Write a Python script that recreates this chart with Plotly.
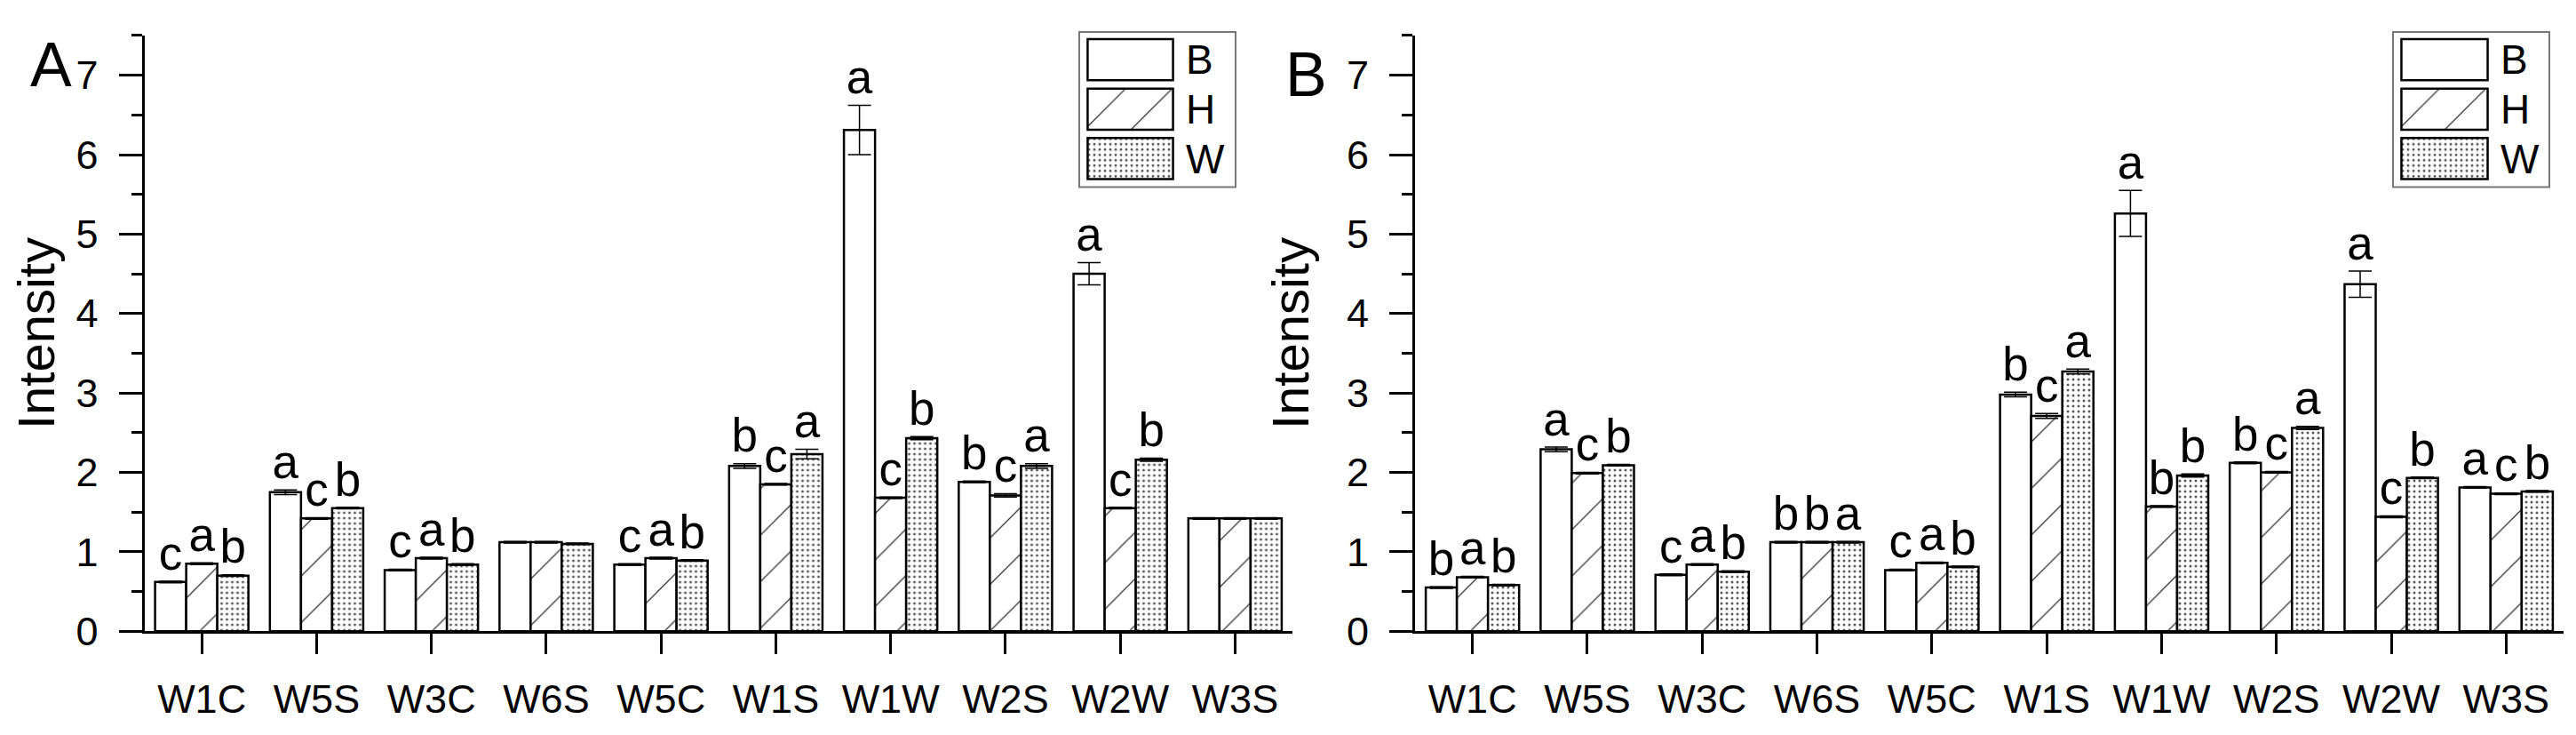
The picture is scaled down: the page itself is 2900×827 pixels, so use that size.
import plotly.graph_objects as go

# ---------------- data ----------------
categories = ["W1C", "W5S", "W3C", "W6S", "W5C", "W1S", "W1W", "W2S", "W2W", "W3S"]
series_names = ["B", "H", "W"]

# Panel A
a_B = [0.62, 1.75, 0.77, 1.12, 0.84, 2.08, 6.31, 1.88, 4.50, 1.42]
a_H = [0.85, 1.42, 0.92, 1.12, 0.92, 1.85, 1.68, 1.71, 1.55, 1.42]
a_W = [0.70, 1.55, 0.84, 1.10, 0.89, 2.23, 2.43, 2.08, 2.16, 1.42]
a_B_err = [0.01, 0.03, 0.01, 0.01, 0.01, 0.03, 0.31, 0.01, 0.14, 0.01]
a_H_err = [0.01, 0.01, 0.01, 0.01, 0.01, 0.01, 0.01, 0.02, 0.01, 0.01]
a_W_err = [0.01, 0.01, 0.01, 0.01, 0.01, 0.06, 0.02, 0.03, 0.02, 0.01]
a_B_let = ["c", "a", "c", "", "c", "b", "a", "b", "a", ""]
a_H_let = ["a", "c", "a", "", "a", "c", "c", "c", "c", ""]
a_W_let = ["b", "b", "b", "", "b", "a", "b", "a", "b", ""]

# Panel B
b_B = [0.55, 2.29, 0.71, 1.12, 0.77, 2.98, 5.26, 2.12, 4.37, 1.81]
b_H = [0.68, 1.99, 0.84, 1.12, 0.86, 2.71, 1.57, 2.00, 1.44, 1.73]
b_W = [0.58, 2.09, 0.75, 1.12, 0.81, 3.27, 1.96, 2.56, 1.93, 1.76]
b_B_err = [0.01, 0.03, 0.01, 0.01, 0.01, 0.03, 0.29, 0.01, 0.165, 0.01]
b_H_err = [0.01, 0.01, 0.01, 0.01, 0.01, 0.03, 0.01, 0.01, 0.01, 0.01]
b_W_err = [0.01, 0.01, 0.01, 0.01, 0.01, 0.03, 0.02, 0.02, 0.01, 0.01]
b_B_let = ["b", "a", "c", "b", "c", "b", "a", "b", "a", "a"]
b_H_let = ["a", "c", "a", "b", "a", "c", "b", "c", "c", "c"]
b_W_let = ["b", "b", "b", "a", "b", "a", "b", "a", "b", "b"]

y_tickvals = [0, 1, 2, 3, 4, 5, 6, 7]
panel_labels = ["A", "B"]
y_title = "Intensity"

# ---------------- styles ----------------
W_PX, H_PX = 2900, 827
FONT = "Liberation Sans, Arial, sans-serif"

def px_x(p):
    return p / W_PX

def px_y(p):
    return (H_PX - p) / H_PX

patterns = {
    "B": dict(shape="", bgcolor="white"),
    "H": dict(shape="/", size=37, solidity=0.035, fgcolor="#333333", bgcolor="white", fillmode="replace"),
    "W": dict(shape=".", size=6, solidity=0.2, fgcolor="#5a5a5a", bgcolor="white", fillmode="replace"),
}

fig = go.Figure()

panels = [
    dict(vals=[a_B, a_H, a_W], errs=[a_B_err, a_H_err, a_W_err], lets=[a_B_let, a_H_let, a_W_let],
         xa="x", ya="y"),
    dict(vals=[b_B, b_H, b_W], errs=[b_B_err, b_H_err, b_W_err], lets=[b_B_let, b_H_let, b_W_let],
         xa="x2", ya="y2"),
]

for p in panels:
    for name, v, e in zip(series_names, p["vals"], p["errs"]):
        fig.add_trace(go.Bar(
            x=categories, y=v, name=name, offsetgroup=name,
            xaxis=p["xa"], yaxis=p["ya"], showlegend=False,
            marker=dict(color="white", line=dict(color="black", width=2.5), pattern=patterns[name]),
            error_y=dict(type="data", array=e, visible=True, color="black", thickness=1.5, width=13),
        ))
    for name, v, e, l in zip(series_names, p["vals"], p["errs"], p["lets"]):
        fig.add_trace(go.Scatter(
            x=categories, y=[vi + ei for vi, ei in zip(v, e)], text=l, mode="text",
            textposition="top center", offsetgroup=name,
            textfont=dict(family=FONT, size=53, color="black"),
            xaxis=p["xa"], yaxis=p["ya"], showlegend=False, hoverinfo="skip", cliponaxis=False,
        ))

# legend insets (drawn as small bar charts)
leg_axes = [("x3", "y3"), ("x4", "y4")]
for xa, ya in leg_axes:
    fig.add_trace(go.Bar(
        x=[1, 1, 1], y=series_names, orientation="h", width=0.83,
        xaxis=xa, yaxis=ya, showlegend=False, hoverinfo="skip",
        marker=dict(
            color="white", line=dict(color="black", width=2.5),
            pattern=dict(
                shape=[patterns[s]["shape"] for s in series_names],
                size=[patterns[s].get("size", 8) for s in series_names],
                solidity=[patterns[s].get("solidity", 0.3) for s in series_names],
                fgcolor=[patterns[s].get("fgcolor", "black") for s in series_names],
                bgcolor="white", fillmode="replace",
            ),
        ),
    ))

y_dom = [px_y(725), px_y(33)]
x_doms = [[px_x(154.5), px_x(1447)], [px_x(1585), px_x(2878)]]

common_x = dict(
    type="category", range=[-0.5, 9.5], showline=True, linewidth=3, linecolor="black",
    ticks="outside", ticklen=23, tickwidth=3, tickcolor="black", showgrid=False, zeroline=False,
    tickfont=dict(family=FONT, size=45, color="black"), ticklabelstandoff=12,
)
common_y = dict(
    range=[0, 7.5], tickvals=y_tickvals, showline=True, linewidth=3, linecolor="black",
    ticks="outside", ticklen=26, tickwidth=3, tickcolor="black", showgrid=False, zeroline=False,
    tickfont=dict(family=FONT, size=45, color="black"), ticklabelstandoff=14,
    minor=dict(dtick=0.5, ticks="outside", ticklen=12, tickwidth=3, tickcolor="black", showgrid=False),
    title=dict(text=y_title, font=dict(family=FONT, size=58, color="black"), standoff=24),
)

leg_x = [[px_x(1215), px_x(1314)], [px_x(2694), px_x(2794)]]
leg_y = [px_y(204.75), px_y(32.25)]
leg_common_x = dict(range=[-0.015, 1.015], visible=False, fixedrange=True)
leg_common_y = dict(type="category", range=[2.5, -0.5], side="right", showline=False, showgrid=False,
                    zeroline=False, ticks="", ticklabelstandoff=12,
                    tickfont=dict(family=FONT, size=46, color="black"))

fig.update_layout(
    width=W_PX, height=H_PX,
    margin=dict(l=0, r=0, t=0, b=0),
    paper_bgcolor="white", plot_bgcolor="white",
    barmode="group", bargap=0.187, bargroupgap=0,
    scattermode="group", scattergap=0.187,
    font=dict(family=FONT, color="black"),
    xaxis=dict(domain=x_doms[0], anchor="y", **common_x),
    yaxis=dict(domain=y_dom, anchor="x", **common_y),
    xaxis2=dict(domain=x_doms[1], anchor="y2", **common_x),
    yaxis2=dict(domain=y_dom, anchor="x2", **common_y),
    xaxis3=dict(domain=leg_x[0], anchor="y3", **leg_common_x),
    yaxis3=dict(domain=leg_y, anchor="x3", **leg_common_y),
    xaxis4=dict(domain=leg_x[1], anchor="y4", **leg_common_x),
    yaxis4=dict(domain=leg_y, anchor="x4", **leg_common_y),
    showlegend=False,
)

# legend frames
for (x0, x1) in [(1207, 1383), (2686, 2862)]:
    fig.add_shape(type="rect", xref="paper", yref="paper",
                  x0=px_x(x0), x1=px_x(x1), y0=px_y(209), y1=px_y(29),
                  line=dict(color="#777777", width=2), fillcolor="rgba(0,0,0,0)", layer="below")

# panel labels
for lab, (cx, cy) in zip(panel_labels, [(49.5, 67), (1462, 78)]):
    fig.add_annotation(text=lab, xref="paper", yref="paper", x=px_x(cx), y=px_y(cy),
                       xanchor="center", yanchor="middle", showarrow=False,
                       font=dict(family=FONT, size=70, color="black"))

fig.write_html("out.html")
